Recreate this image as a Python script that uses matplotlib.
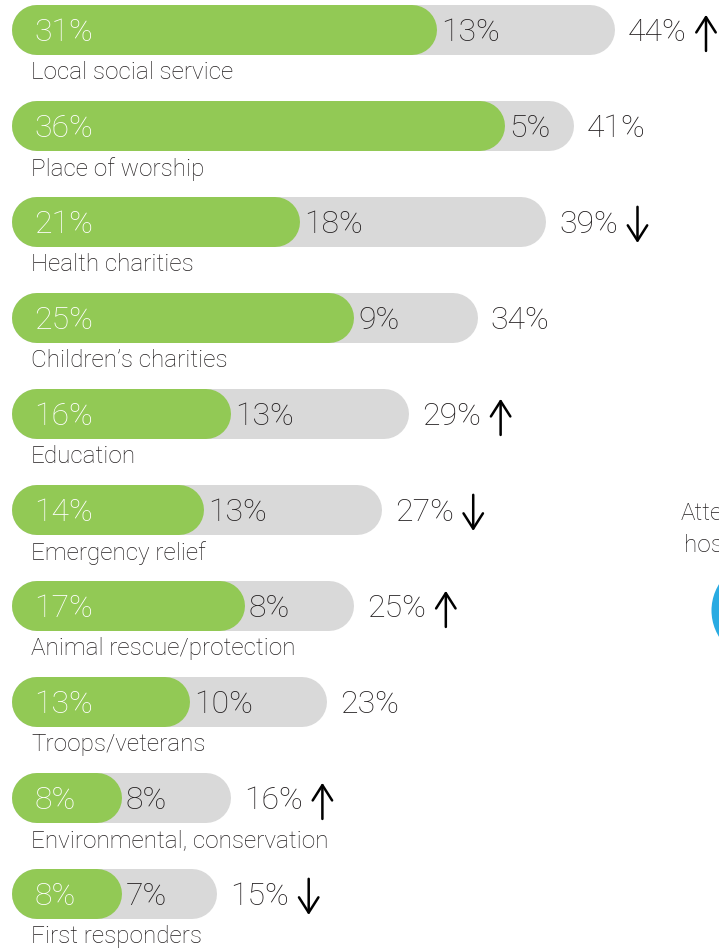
import matplotlib.pyplot as plt
from matplotlib.text import OffsetFrom

plt.rcParams['font.family'] = ['Roboto', 'DejaVu Sans']

categories = ["Local social service", "Place of worship", "Health charities",
              "Children\u2019s charities", "Education", "Emergency relief",
              "Animal rescue/protection", "Troops/veterans",
              "Environmental, conservation", "First responders"]
green_vals = [31, 36, 21, 25, 16, 14, 17, 13, 8, 8]
grey_vals = [13, 5, 18, 9, 13, 13, 8, 10, 8, 7]
totals = [44, 41, 39, 34, 29, 27, 25, 23, 16, 15]
trend = ["up", "", "down", "", "up", "down", "up", "", "up", "down"]

GREEN = "#92c955"
GREY = "#d9d9d9"
DARK = "#231f20"

W, H = 719, 951
ppu = 13.7      # pixels per percent
x0px = 12
row_px = 96
top_px = 30

fig = plt.figure(figsize=(W / 100, H / 100), dpi=100)
ax = fig.add_axes([0, 0, 1, 1])
ax.set_xlim(-x0px / ppu, (W - x0px) / ppu)
ax.set_ylim((H - top_px) / row_px, -top_px / row_px)
ax.axis("off")

lw = 50 * 72 / 100          # bar thickness in points
r = 25 / ppu                # cap radius in data units
pct = dict(fontsize=23, fontweight="light", va="center", ha="left", zorder=3)
lab = dict(fontsize=17.5, fontweight="light", va="center", ha="left", color=DARK)
dy = 0.03                   # nudge numbers down onto bar centre

for i, cat in enumerate(categories):
    g = green_vals[i]
    t = totals[i]
    ax.plot([r, t - r], [i, i], color=GREY, lw=lw, solid_capstyle="round", zorder=1)
    ax.plot([r, g - r], [i, i], color=GREEN, lw=lw, solid_capstyle="round", zorder=2)
    ax.text(22 / ppu, i + dy, f"{g}%", color="white", **pct)
    ax.text(g + 4 / ppu, i + dy, f"{grey_vals[i]}%", color=DARK, **pct)
    tt = ax.text(t + 13 / ppu, i + dy, f"{t}%", color=DARK, **pct)
    if trend[i]:
        off = OffsetFrom(tt, (1, 0.5))
        d = 13 if trend[i] == "up" else -13
        ax.annotate("", xy=(14, d), xycoords=off, xytext=(14, -d), textcoords=off,
                    arrowprops=dict(arrowstyle="->,head_length=0.55,head_width=0.35",
                                    mutation_scale=20, lw=1.8, color="black",
                                    shrinkA=0, shrinkB=0))
    ax.text(19 / ppu, i + 0.445, cat, **lab)

# clipped neighbouring panel at right edge
ax.text((681 - x0px) / ppu, (513 - top_px) / row_px, "Attended", **lab)
ax.text((684 - x0px) / ppu, (545 - top_px) / row_px, "hosted", **lab)
ax.scatter([(761 - x0px) / ppu], [(610 - top_px) / row_px], s=(100 * 72 / 100) ** 2,
           color="#29abe2", linewidths=0, clip_on=False)

fig.savefig("out.png", dpi=100)
